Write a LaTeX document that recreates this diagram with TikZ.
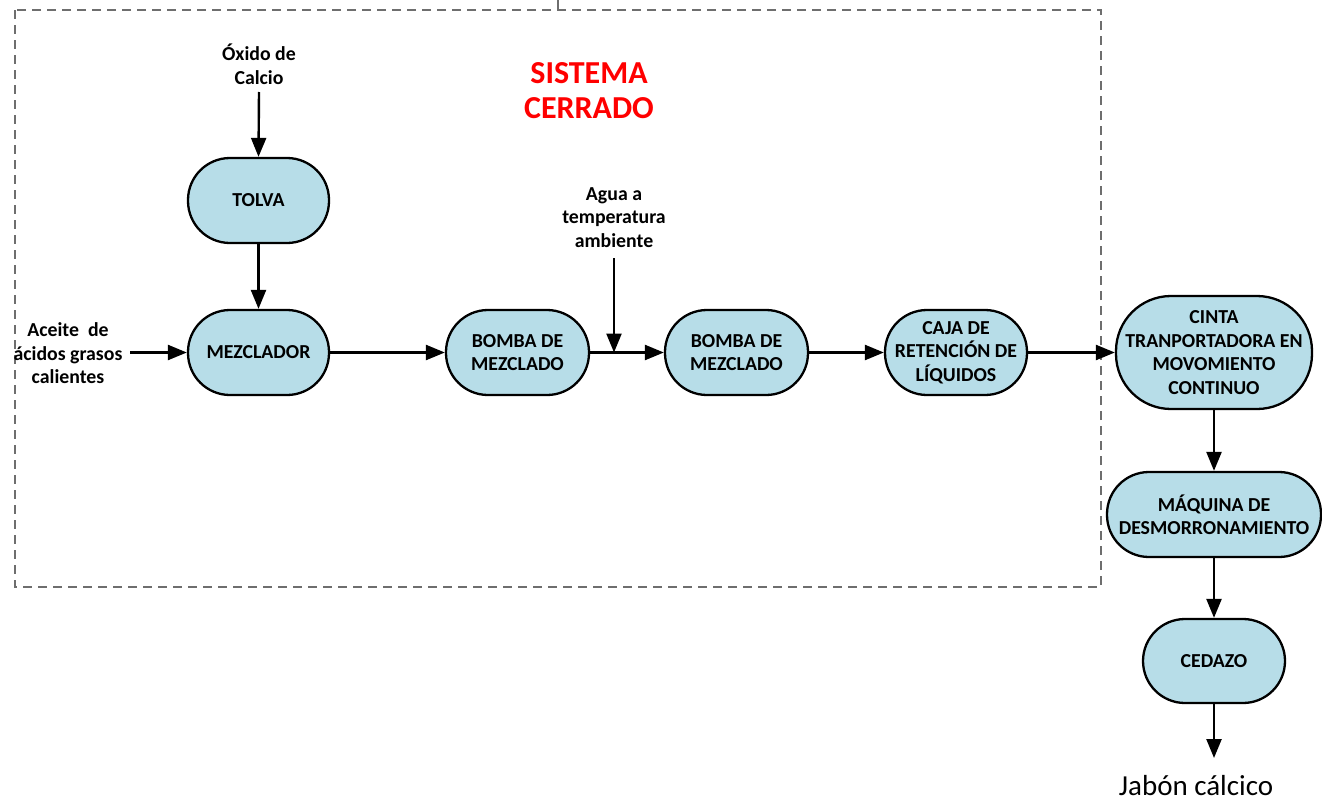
\documentclass[tikz,border=0pt]{standalone}
\usepackage{fontspec}
\setmainfont{Carlito}
\usetikzlibrary{arrows.meta}
\definecolor{boxblue}{HTML}{B7DDE8}
\definecolor{framegray}{HTML}{6E6E6E}
\tikzset{
  procbox/.style={draw=black, line width=2.3pt, fill=boxblue, rounded corners=42pt,
    align=center, inner sep=0pt, font=\bfseries\fontsize{19.8}{23.5}\selectfont},
  lbl/.style={align=center, inner sep=0pt, font=\bfseries\fontsize{19.8}{23.5}\selectfont},
  flow/.style={line width=2.4pt, -{Triangle[length=19pt,width=15pt]}},
  frame/.style={draw=framegray, line width=1.1pt, dash pattern=on 9pt off 6pt}
}
\begin{document}
\begin{tikzpicture}[x=1pt,y=-1pt]
\useasboundingbox (0,0) rectangle (1322,803);

% closed-system boundary
\draw[frame] (15,10) rectangle (1101,587);
\coordinate (tickTop) at (558,0);
\coordinate (tickBot) at (558,10);
\draw[framegray, line width=1.3pt] (tickTop) -- (tickBot);

\node[font=\bfseries\fontsize{32}{35}\selectfont, text=red, align=center] (sis) at (589,90.5) {SISTEMA\\CERRADO};

% process units
\node[procbox, minimum width=141pt, minimum height=85pt] (tolva) at (258.5,200.5) {TOLVA};
\node[procbox, minimum width=141pt, minimum height=85pt] (mezc) at (258.5,352.5) {MEZCLADOR};
\node[procbox, minimum width=143pt, minimum height=85pt] (bomba1) at (517.5,352.5) {BOMBA DE\\MEZCLADO};
\node[procbox, minimum width=143pt, minimum height=85pt] (bomba2) at (736.5,352.5) {BOMBA DE\\MEZCLADO};
\node[procbox, minimum width=142pt, minimum height=85pt] (caja) at (956,352.5) {CAJA DE\\RETENCIÓN DE\\LÍQUIDOS};
\node[procbox, minimum width=196pt, minimum height=113pt, rounded corners=55pt] (cinta) at (1214,352.5) {CINTA\\TRANPORTADORA EN\\MOVOMIENTO\\CONTINUO};
\node[procbox, minimum width=214pt, minimum height=85pt] (maq) at (1214,514.5) {MÁQUINA DE\\DESMORRONAMIENTO};
\node[procbox, minimum width=142pt, minimum height=84pt] (cedazo) at (1214,661) {CEDAZO};

% input / output labels
\node[lbl] (oxido) at (259,64.5) {Óxido de\\Calcio};
\node[lbl] (agua) at (614,217.5) {Agua a\\temperatura\\ambiente};
\node[lbl] (aceite) at (68,353.5) {Aceite\ \ de\\ácidos grasos\\calientes};
\node[inner sep=0pt, font=\fontsize{29}{34}\selectfont] (jabon) at (1196,786) {Jabón cálcico};

% free ends of the feed and product lines
\coordinate (oxIn) at (259,92);
\coordinate (aguaIn) at (614,258);
\coordinate (aguaJoin) at (614,352.5);
\coordinate (aceiteIn) at (130,352.5);
\coordinate (prodOut) at (1214,758);

% flows
\draw[flow] (oxIn) -- (tolva.north);
\draw[flow] (tolva.south) -- (mezc.north);
\draw[flow] (aceiteIn) -- (mezc.west);
\draw[flow] (mezc.east) -- (bomba1.west);
\draw[flow] (bomba1.east) -- (bomba2.west);
\draw[flow] (aguaIn) -- (aguaJoin);
\draw[flow] (bomba2.east) -- (caja.west);
\draw[flow] (caja.east) -- (cinta.west);
\draw[flow] (cinta.south) -- (maq.north);
\draw[flow] (maq.south) -- (cedazo.north);
\draw[flow] (cedazo.south) -- (prodOut);
\end{tikzpicture}
\end{document}
